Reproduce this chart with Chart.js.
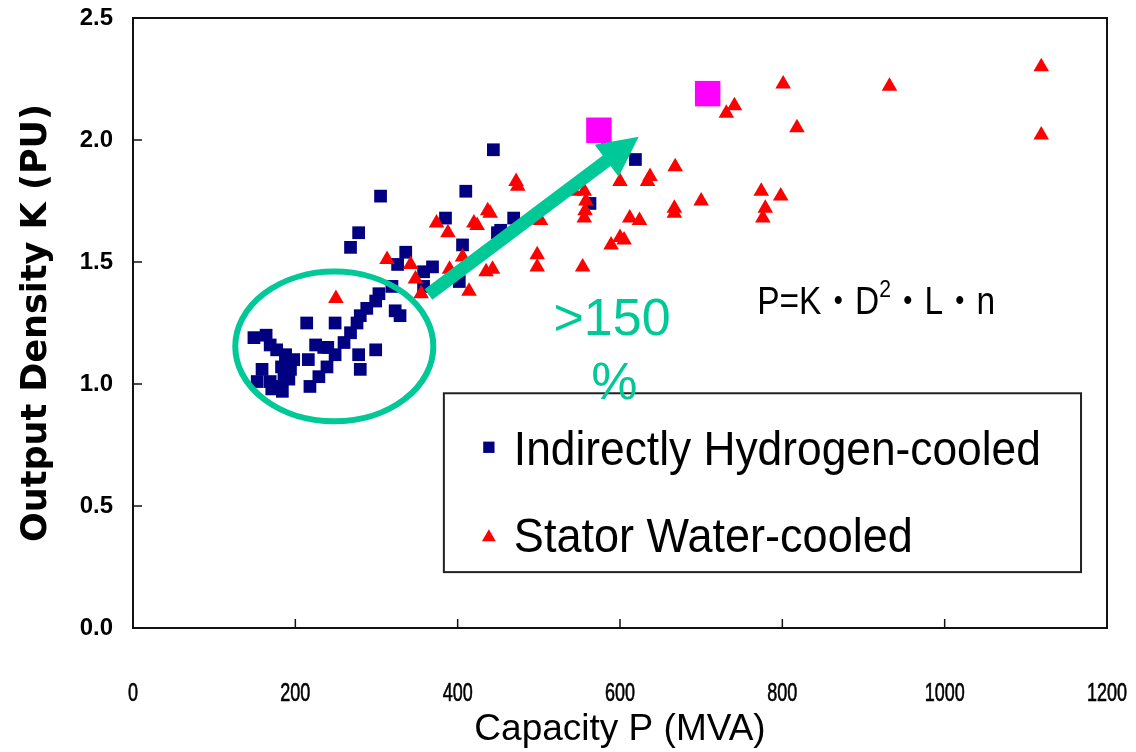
<!DOCTYPE html>
<html>
<head>
<meta charset="utf-8">
<script src="https://cdn.jsdelivr.net/npm/chart.js@4.4.0/dist/chart.umd.min.js"></script>
<style>
    html, body { margin: 0; padding: 0; background: #fff; }
</style>
</head>
<body>
<canvas id="outputChart" width="1136" height="752"></canvas>
<script>
// Indirectly hydrogen-cooled units (capacity MVA, output density PU)
const hydrogenP = [149, 164, 169, 177, 188, 198, 188, 183, 194, 186, 192, 159, 153, 169, 177, 184, 171,
    214, 249, 225, 235, 240, 216, 218, 229, 239, 249, 260, 268, 276, 280, 288, 299, 303, 278, 280, 299,
    323, 329, 319, 268, 278, 305, 326, 336, 358, 358, 369, 385, 402, 406, 410, 444, 449, 453, 469, 563, 619];
const hydrogenK = [1.19, 1.20, 1.16, 1.14, 1.12, 1.10, 1.10, 1.07, 1.06, 1.04, 1.02, 1.06, 1.01, 1.01, 0.99, 0.97, 0.98,
    1.25, 1.25, 1.16, 1.15, 1.15, 1.10, 0.99, 1.03, 1.07, 1.12, 1.17, 1.21, 1.25, 1.28, 1.31, 1.34, 1.37, 1.12, 1.06, 1.14,
    1.30, 1.28, 1.40, 1.56, 1.62, 1.77, 1.49, 1.54, 1.46, 1.40, 1.48, 1.68, 1.42, 1.57, 1.79, 1.96, 1.62, 1.63, 1.68, 1.74, 1.92];

// Stator water-cooled units
const waterP = [250, 313, 342, 348, 355, 374, 388, 390, 406, 414, 420, 424, 435, 443, 437, 440, 472, 474,
    498, 498, 502, 543, 556, 558, 557, 556, 554, 584, 589, 600, 605, 600, 612, 624, 634, 637, 667, 667,
    668, 700, 731, 741, 774, 776, 779, 798, 801, 818, 932, 1119, 1119];
const waterK = [1.35, 1.51, 1.49, 1.43, 1.37, 1.66, 1.62, 1.47, 1.52, 1.38, 1.66, 1.65, 1.46, 1.47, 1.71, 1.70, 1.83, 1.81,
    1.53, 1.48, 1.67, 1.79, 1.79, 1.75, 1.71, 1.68, 1.48, 1.99, 1.57, 1.60, 1.59, 1.83, 1.68, 1.67, 1.83, 1.85, 1.72, 1.70,
    1.89, 1.75, 2.11, 2.14, 1.79, 1.68, 1.72, 1.77, 2.23, 2.05, 2.22, 2.30, 2.02];

// Highlighted units
const highlightP = [574, 708];
const highlightK = [2.04, 2.19];

// Axis ticks
const xTickValues = [0, 200, 400, 600, 800, 1000, 1200];
const yTickValues = [0, 0.5, 1.0, 1.5, 2.0, 2.5];

const toPoints = (xs, ys) => xs.map((v, i) => ({ x: v, y: ys[i] }));

const TEAL = 'rgb(0, 200, 150)';

// Annotation placement in data units
const ring = { x: 248, y: 1.154, rx: 122, ry: 0.307 };
const arrow = { x0: 364, y0: 1.367, x1: 623, y1: 2.013 };
const legendBox = { x0: 383, x1: 1168, y0: 0.962, y1: 0.229 };

function fitText(ctx, text, left, baseline, font, width) {
    ctx.font = font;
    const w = ctx.measureText(text).width;
    ctx.save();
    ctx.translate(left, baseline);
    ctx.scale(width / w, 1);
    ctx.fillText(text, 0, 0);
    ctx.restore();
}

const overlayPlugin = {
    id: 'overlay',
    afterDatasetsDraw(chart) {
        const { ctx, chartArea: a, scales: { x, y } } = chart;
        ctx.save();

        // plot frame
        ctx.strokeStyle = '#111';
        ctx.lineWidth = 2;
        ctx.strokeRect(a.left, a.top, a.right - a.left, a.bottom - a.top);

        // inward tick marks
        ctx.lineWidth = 1.5;
        x.ticks.forEach(t => {
            const px = x.getPixelForValue(t.value);
            ctx.beginPath();
            ctx.moveTo(px, a.bottom);
            ctx.lineTo(px, a.bottom - 9);
            ctx.stroke();
        });
        y.ticks.forEach(t => {
            const py = y.getPixelForValue(t.value);
            ctx.beginPath();
            ctx.moveTo(a.left, py);
            ctx.lineTo(a.left + 9, py);
            ctx.stroke();
        });

        // x tick labels, narrow face
        ctx.fillStyle = '#000';
        ctx.textBaseline = 'alphabetic';
        ctx.font = '25px "Liberation Sans", Arial, sans-serif';
        x.ticks.forEach(t => {
            const label = String(t.value);
            const w = ctx.measureText(label).width;
            ctx.save();
            ctx.translate(x.getPixelForValue(t.value), a.bottom + 73);
            ctx.scale(0.72, 1.0);
            ctx.fillText(label, -w / 2, 0);
            ctx.strokeStyle = '#000';
            ctx.lineWidth = 0.6;
            ctx.strokeText(label, -w / 2, 0);
            ctx.restore();
        });

        // ellipse round the small units
        const cx = x.getPixelForValue(ring.x);
        const cy = y.getPixelForValue(ring.y);
        const rx = x.getPixelForValue(ring.x + ring.rx) - cx;
        const ry = cy - y.getPixelForValue(ring.y + ring.ry);
        ctx.strokeStyle = TEAL;
        ctx.lineWidth = 6;
        ctx.beginPath();
        ctx.ellipse(cx, cy, rx, ry, 0, 0, Math.PI * 2);
        ctx.stroke();

        // arrow
        const sx = x.getPixelForValue(arrow.x0), sy = y.getPixelForValue(arrow.y0);
        const tx = x.getPixelForValue(arrow.x1), ty = y.getPixelForValue(arrow.y1);
        const len = Math.hypot(tx - sx, ty - sy);
        const ux = (tx - sx) / len, uy = (ty - sy) / len;
        const nx = -uy, ny = ux;
        const shaft = 6.5, headLen = 40, headHalf = 20;
        const bx = tx - ux * headLen, by = ty - uy * headLen;
        ctx.fillStyle = TEAL;
        ctx.beginPath();
        ctx.moveTo(sx + nx * shaft, sy + ny * shaft);
        ctx.lineTo(bx + nx * shaft, by + ny * shaft);
        ctx.lineTo(bx + nx * headHalf, by + ny * headHalf);
        ctx.lineTo(tx, ty);
        ctx.lineTo(bx - nx * headHalf, by - ny * headHalf);
        ctx.lineTo(bx - nx * shaft, by - ny * shaft);
        ctx.lineTo(sx - nx * shaft, sy - ny * shaft);
        ctx.closePath();
        ctx.fill();

        // legend box
        const lx = x.getPixelForValue(legendBox.x0), rxp = x.getPixelForValue(legendBox.x1);
        const ty0 = y.getPixelForValue(legendBox.y0), by1 = y.getPixelForValue(legendBox.y1);
        ctx.fillStyle = '#fff';
        ctx.fillRect(lx, ty0, rxp - lx, by1 - ty0);
        ctx.strokeStyle = '#222';
        ctx.lineWidth = 2;
        ctx.strokeRect(lx, ty0, rxp - lx, by1 - ty0);

        const hydro = chart.data.datasets[2];
        const water = chart.data.datasets[1];
        ctx.fillStyle = hydro.backgroundColor;
        Chart.helpers.drawPoint(ctx, { pointStyle: 'rect', radius: 8, borderWidth: 0 }, lx + 45, ty0 + 54);
        ctx.fillStyle = water.backgroundColor;
        Chart.helpers.drawPoint(ctx, { pointStyle: 'triangle', radius: 8, borderWidth: 0 }, lx + 45, ty0 + 144);

        ctx.fillStyle = '#000';
        ctx.textAlign = 'left';
        ctx.textBaseline = 'alphabetic';
        fitText(ctx, hydro.label, lx + 70, ty0 + 72, '48px "Liberation Sans", Arial, sans-serif', 527);
        fitText(ctx, water.label, lx + 70, ty0 + 159, '48px "Liberation Sans", Arial, sans-serif', 399);

        // formula P=K・D²・L・n
        const fx = x.getPixelForValue(769), fy = y.getPixelForValue(1.288);
        const mainFont = '38px "Liberation Sans", "Noto Sans CJK JP", sans-serif';
        const supFont = '24px "Liberation Sans", sans-serif';
        const parts = [['P=K・D', mainFont, 0], ['2', supFont, -17], ['・L・n', mainFont, 0]];
        let natural = 0;
        parts.forEach(p => { ctx.font = p[1]; natural += ctx.measureText(p[0]).width; });
        const k = 238 / natural;
        ctx.save();
        ctx.translate(fx, fy);
        ctx.scale(k, 1);
        let cur = 0;
        parts.forEach(p => {
            ctx.font = p[1];
            ctx.fillText(p[0], cur, p[2]);
            cur += ctx.measureText(p[0]).width;
        });
        ctx.restore();

        // growth label
        ctx.fillStyle = TEAL;
        ctx.font = '52px "Liberation Sans", Arial, sans-serif';
        ctx.textAlign = 'left';
        ctx.fillText('>150', x.getPixelForValue(518), y.getPixelForValue(1.199));
        ctx.textAlign = 'center';
        ctx.fillText('%', x.getPixelForValue(593), y.getPixelForValue(0.94));

        ctx.restore();
    }
};

new Chart(document.getElementById('outputChart'), {
    type: 'scatter',
    data: {
        datasets: [
            {
                label: 'Highlighted',
                data: toPoints(highlightP, highlightK),
                pointStyle: 'rect',
                pointRadius: 18,
                backgroundColor: '#FF00FF',
                borderWidth: 0
            },
            {
                label: 'Stator Water-cooled',
                data: toPoints(waterP, waterK),
                pointStyle: 'triangle',
                pointRadius: 9,
                backgroundColor: '#FF0000',
                borderWidth: 0
            },
            {
                label: 'Indirectly Hydrogen-cooled',
                data: toPoints(hydrogenP, hydrogenK),
                pointStyle: 'rect',
                pointRadius: 9,
                backgroundColor: '#000080',
                borderWidth: 0
            }
        ]
    },
    options: {
        responsive: false,
        animation: false,
        layout: { padding: { top: 17, right: 29, left: 0, bottom: 0 } },
        plugins: {
            legend: { display: false },
            tooltip: { enabled: false }
        },
        scales: {
            x: {
                type: 'linear',
                min: 0,
                max: 1200,
                afterFit(scale) {
                    scale.height = 124;
                    scale.paddingLeft = 0;
                    scale.paddingRight = 0;
                },
                afterBuildTicks(scale) { scale.ticks = xTickValues.map(v => ({ value: v })); },
                ticks: { display: false },
                grid: { display: false, drawTicks: false },
                border: { display: false },
                title: {
                    display: true,
                    text: 'Capacity P (MVA)',
                    color: '#000',
                    font: { family: '"Liberation Sans", Arial, sans-serif', size: 37 },
                    padding: { top: 0, bottom: 0 }
                }
            },
            y: {
                type: 'linear',
                min: 0,
                max: 2.5,
                afterFit(scale) {
                    scale.width = 133;
                    scale.paddingTop = 0;
                    scale.paddingBottom = 0;
                },
                afterBuildTicks(scale) { scale.ticks = yTickValues.map(v => ({ value: v })); },
                ticks: {
                    padding: 20,
                    color: '#000',
                    font: { family: '"Liberation Sans", Arial, sans-serif', size: 24, weight: 'bold' },
                    callback: value => Number(value).toFixed(1)
                },
                grid: { display: false, drawTicks: false },
                border: { display: false },
                title: {
                    display: true,
                    text: 'Output Density K (PU)',
                    color: '#000',
                    font: { family: '"DejaVu Sans", sans-serif', size: 35, weight: 'bold' },
                    padding: { top: 16 }
                }
            }
        }
    },
    plugins: [overlayPlugin]
});
</script>
</body>
</html>
